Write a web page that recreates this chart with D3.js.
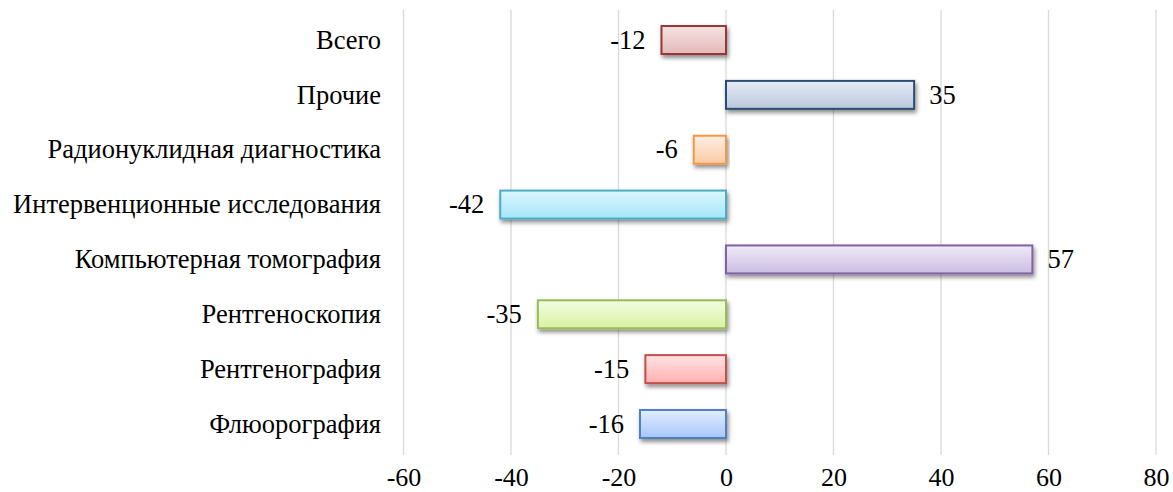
<!DOCTYPE html>
<html><head><meta charset="utf-8">
<script src="https://cdn.jsdelivr.net/npm/d3@7"></script>
<style>body{margin:0;background:#fff}svg{display:block}</style>
</head><body>
<svg id="c" width="1173" height="492"></svg>
<script>
const categories = ["Всего","Прочие","Радионуклидная диагностика","Интервенционные исследования","Компьютерная томография","Рентгеноскопия","Рентгенография","Флюорография"];
const values = [-12,35,-6,-42,57,-35,-15,-16];
const tickValues = [-60,-40,-20,0,20,40,60,80];
const strokeColors = ["#953735","#2c4d75","#f79646","#4bacc6","#8064a2","#9bbb59","#c0504d","#4f81bd"];
const fillTop = ["#f5e3e2","#e6ecf5","#fdeee3","#dcf6fe","#efeaf6","#f3fce2","#ffe3e3","#e2edff"];
const fillBottom = ["#e3b9b8","#b9c7dc","#fbcca6","#a6e6fa","#cbbde2","#d8f3a3","#ffb0b0","#a8c6fb"];

const FONT = "'Liberation Serif','Times New Roman',serif";
const svg = d3.select("#c");
const x = d3.scaleLinear().domain([-60,80]).range([403.5,1156]);
const y = d3.scaleBand().domain(categories).range([12.6,451.4]).paddingInner(0.49).paddingOuter(0.245);

const defs = svg.append("defs");
const f = defs.append("filter").attr("id","sh").attr("x","-10%").attr("y","-30%").attr("width","120%").attr("height","180%");
f.append("feDropShadow").attr("dx",1.5).attr("dy",3).attr("stdDeviation",2).attr("flood-color","#000").attr("flood-opacity",0.45);
categories.forEach((c,i)=>{
  const g = defs.append("linearGradient").attr("id","g"+i).attr("x1",0).attr("y1",0).attr("x2",0).attr("y2",1);
  g.append("stop").attr("offset","0%").attr("stop-color",fillTop[i]);
  g.append("stop").attr("offset","100%").attr("stop-color",fillBottom[i]);
});

svg.append("g").selectAll("line").data(tickValues).join("line")
  .attr("x1",d=>x(d)).attr("x2",d=>x(d)).attr("y1",10).attr("y2",455)
  .attr("stroke","#d9d9d9").attr("stroke-width",1.3);

svg.append("g").selectAll("rect").data(values).join("rect")
  .attr("x",d=>x(Math.min(0,d))).attr("width",d=>Math.abs(x(d)-x(0)))
  .attr("y",(d,i)=>y(categories[i])).attr("height",y.bandwidth())
  .attr("fill",(d,i)=>`url(#g${i})`).attr("stroke",(d,i)=>strokeColors[i]).attr("stroke-width",2)
  .attr("filter","url(#sh)");

svg.append("g").selectAll("text").data(categories).join("text")
  .attr("x",381).attr("y",d=>y(d)+y.bandwidth()/2).attr("dy","0.33em")
  .attr("text-anchor","end")
  .style("font-family",FONT).style("font-size","26.5px")
  .attr("fill","#000").text(d=>d);

svg.append("g").selectAll("text").data(values).join("text")
  .attr("x",d=> d<0 ? x(d)-16 : x(d)+15)
  .attr("y",(d,i)=>y(categories[i])+y.bandwidth()/2).attr("dy","0.33em")
  .attr("text-anchor",d=>d<0?"end":"start")
  .style("font-family",FONT).style("font-size","26.5px")
  .attr("fill","#000").text(d=>d);

const ax = svg.append("g").attr("transform","translate(0,455)")
  .call(d3.axisBottom(x).tickValues(tickValues).tickSize(0).tickPadding(16).tickFormat(d=>d));
ax.select(".domain").remove();
ax.attr("font-family",null).attr("font-size",null);
ax.selectAll("text").attr("dy",null).attr("y",31)
  .style("font-family",FONT).style("font-size","26px").attr("fill","#000");
</script>
</body></html>
